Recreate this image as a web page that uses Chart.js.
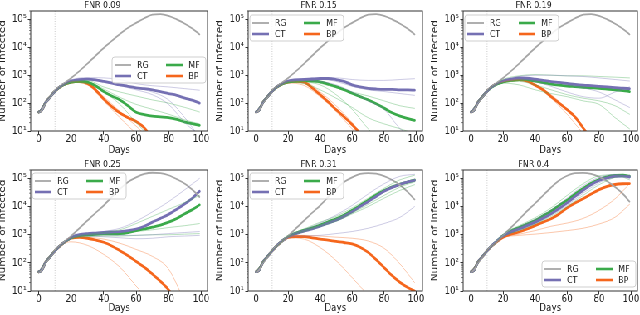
<!DOCTYPE html>
<html>
<head>
<meta charset="utf-8">
<script src="https://cdn.jsdelivr.net/npm/chart.js@4.4.1/dist/chart.umd.min.js"></script>
<style>
  html, body { margin: 0; padding: 0; background: #fff; overflow: hidden; width: 640px; height: 315px; }
  #fig { position: absolute; left: 0; top: 0; height: 315px; transform-origin: 0 0; }
  #fig canvas { position: absolute; }
</style>
</head>
<body>
<div id="fig"></div>
<script>
// days sampled for the thick mean curves and for the thin single runs
const days = [0, 2, 4, 7, 10, 15, 20, 25, 30, 35, 40, 45, 50, 55, 60, 65, 70, 75, 80, 85, 90, 95, 99];
const runDays = [0, 5, 10, 15, 20, 30, 40, 50, 60, 70, 80, 90, 99];
const xTicks = [0, 20, 40, 60, 80, 100];
const yTicks = [10, 100, 1000, 10000, 100000];
const titles = ["FNR 0.09", "FNR 0.15", "FNR 0.19", "FNR 0.25", "FNR 0.31", "FNR 0.4"];

// RG baseline
const rgTop = [48, 57, 100, 165, 280, 480, 800, 1400, 2600, 5000, 9500, 17000, 30000, 50000, 75000, 110000, 148000, 155000, 135000, 100000, 70000, 45000, 29000];
const rg4 = [48, 57, 100, 165, 280, 500, 900, 1700, 3200, 6000, 11000, 22000, 42000, 75000, 110000, 145000, 160000, 155000, 130000, 95000, 65000, 38000, 22000];
const rg5 = [48, 57, 100, 165, 280, 500, 900, 1700, 3200, 6000, 11000, 22000, 42000, 75000, 110000, 145000, 155000, 148000, 122000, 88000, 58000, 32000, 18000];
const rg6 = [48, 57, 100, 165, 280, 500, 950, 1800, 3500, 7000, 13000, 25000, 48000, 85000, 125000, 155000, 158000, 145000, 115000, 80000, 50000, 28000, 15000];

// FNR 0.09
const p1Ct = [48, 57, 100, 165, 270, 460, 620, 700, 720, 680, 600, 520, 450, 400, 350, 330, 300, 260, 220, 190, 150, 125, 100];
const p1Mf = [48, 57, 100, 165, 270, 450, 560, 600, 560, 420, 260, 180, 130, 80, 47, 39, 34, 32, 30, 26, 21, 18, 16];
const p1Bp = [48, 57, 100, 165, 270, 450, 570, 600, 510, 300, 140, 75, 44, 30, 22, 13, 5];
const p1CtRuns = [
  [48, 125, 270, 450, 680, 820, 800, 700, 500, 420, 380, 330, 290],
  [48, 125, 270, 450, 650, 750, 650, 500, 350, 250, 130, 30, 6],
  [48, 125, 270, 450, 620, 700, 600, 420, 300, 200, 90, 20, 7]
];
const p1MfRuns = [
  [48, 125, 270, 450, 600, 640, 380, 250, 180, 130, 100, 70, 48],
  [48, 125, 270, 450, 550, 500, 250, 90, 20, 5],
  [48, 125, 270, 450, 580, 560, 320, 160, 90, 60, 40, 25, 18]
];
const p1BpRuns = [
  [48, 125, 270, 450, 560, 450, 120, 30, 8],
  [48, 125, 270, 450, 600, 520, 170, 50, 15, 4]
];

// FNR 0.15
const p2Ct = [48, 57, 100, 165, 270, 460, 620, 680, 700, 730, 760, 760, 700, 600, 450, 380, 340, 320, 310, 310, 300, 300, 290];
const p2Mf = [48, 57, 100, 165, 270, 450, 570, 620, 650, 620, 580, 480, 390, 300, 225, 170, 130, 95, 66, 45, 34, 28, 24];
const p2Bp = [48, 57, 100, 165, 270, 450, 580, 600, 560, 350, 200, 110, 58, 32, 17, 8];
const p2CtRuns = [
  [48, 125, 270, 450, 650, 750, 800, 800, 700, 650, 650, 700, 750],
  [48, 125, 270, 450, 640, 720, 720, 600, 400, 300, 260, 220, 190],
  [48, 125, 270, 450, 600, 650, 600, 450, 250, 120, 60, 12, 5]
];
const p2MfRuns = [
  [48, 125, 270, 450, 600, 620, 520, 350, 250, 180, 120, 80, 65],
  [48, 125, 270, 450, 560, 500, 300, 150, 70, 30, 18, 12, 8],
  [48, 125, 270, 450, 560, 560, 450, 200, 60, 12, 3]
];
const p2BpRuns = [
  [48, 125, 270, 450, 520, 430, 170, 50, 12, 3],
  [48, 125, 270, 450, 600, 580, 250, 80, 20, 4]
];

// FNR 0.19
const p3Ct = [48, 57, 100, 165, 270, 460, 620, 720, 800, 780, 720, 650, 590, 550, 510, 470, 440, 420, 400, 380, 360, 340, 330];
const p3Mf = [48, 57, 100, 165, 270, 450, 570, 650, 700, 680, 620, 540, 480, 440, 410, 390, 370, 355, 340, 320, 300, 280, 260];
const p3Bp = [48, 57, 100, 165, 270, 460, 600, 680, 700, 620, 440, 300, 170, 100, 58, 32, 13, 5];
const p3CtRuns = [
  [48, 125, 270, 450, 650, 900, 1000, 1000, 950, 900, 800, 700, 620],
  [48, 125, 270, 450, 600, 750, 600, 400, 250, 170, 150, 250, 380],
  [48, 125, 270, 450, 620, 720, 700, 600, 450, 350, 250, 130, 70]
];
const p3MfRuns = [
  [48, 125, 270, 450, 700, 950, 1050, 1000, 950, 950, 900, 850, 800],
  [48, 125, 270, 450, 520, 450, 300, 220, 170, 120, 90, 30, 12],
  [48, 125, 270, 450, 550, 600, 450, 300, 200, 150, 120, 80, 40]
];
const p3BpRuns = [
  [48, 125, 270, 450, 560, 640, 420, 150, 40, 8],
  [48, 125, 270, 450, 600, 700, 470, 200, 60, 12, 3]
];

// FNR 0.25
const p4Ct = [48, 57, 100, 165, 270, 500, 800, 1000, 1100, 1150, 1200, 1250, 1300, 1400, 1600, 2000, 2800, 3800, 5300, 8000, 12600, 21000, 35000];
const p4Mf = [48, 57, 100, 165, 270, 500, 780, 950, 1000, 1030, 1070, 1080, 1100, 1200, 1400, 1600, 1850, 2200, 2800, 3800, 5600, 8000, 11500];
const p4Bp = [48, 57, 100, 165, 270, 500, 750, 800, 750, 650, 540, 400, 270, 180, 112, 70, 40, 22, 11, 4];
const p4CtRuns = [
  [48, 125, 270, 480, 850, 1100, 1300, 1700, 3000, 6500, 15000, 40000, 100000],
  [48, 125, 270, 480, 800, 1000, 1000, 950, 950, 1000, 1100, 1200, 1300],
  [48, 125, 270, 480, 750, 900, 850, 780, 720, 750, 850, 900, 950]
];
const p4MfRuns = [
  [48, 125, 270, 480, 800, 1050, 1200, 1500, 2500, 4500, 8000, 14000, 25000],
  [48, 125, 270, 480, 760, 950, 1050, 1100, 1300, 1500, 1800, 2100, 2500],
  [48, 125, 270, 480, 720, 850, 900, 900, 950, 1000, 1000, 1050, 1100]
];
const p4BpRuns = [
  [48, 125, 270, 480, 800, 800, 700, 500, 300, 170, 60, 4],
  [48, 125, 270, 480, 560, 420, 200, 70, 15, 3]
];

// FNR 0.31
const p5Ct = [48, 57, 100, 165, 270, 520, 850, 1100, 1350, 1600, 2000, 2600, 3300, 4500, 6500, 10000, 15000, 23000, 35000, 48000, 62000, 75000, 85000];
const p5Mf = [48, 57, 100, 165, 270, 520, 860, 1150, 1450, 1750, 2200, 2900, 3700, 5000, 7400, 11000, 17000, 26000, 37000, 50000, 63000, 75000, 88000];
const p5Bp = [48, 57, 100, 165, 270, 520, 800, 850, 850, 780, 700, 640, 580, 530, 470, 360, 235, 130, 68, 35, 20, 13, 10];
const p5CtRuns = [
  [48, 125, 270, 500, 880, 1500, 2600, 5000, 11000, 28000, 65000, 120000, 140000],
  [48, 125, 270, 500, 800, 900, 950, 1100, 1300, 1700, 2500, 4200, 10000]
];
const p5MfRuns = [
  [48, 125, 270, 500, 900, 1600, 2800, 4500, 9000, 20000, 45000, 90000, 130000],
  [48, 125, 270, 500, 850, 1300, 2000, 3000, 5500, 10000, 20000, 38000, 60000],
  [48, 125, 270, 500, 870, 1400, 2200, 3500, 6000, 12000, 25000, 50000, 75000]
];
const p5BpRuns = [
  [48, 125, 270, 500, 850, 950, 900, 820, 750, 600, 330, 90, 20],
  [48, 125, 270, 500, 780, 700, 350, 120, 30, 7]
];

// FNR 0.4
const p6Ct = [48, 57, 100, 165, 270, 520, 900, 1250, 1600, 2100, 2800, 3900, 5600, 8500, 13500, 23000, 38000, 60000, 85000, 105000, 120000, 122000, 115000];
const p6Mf = [48, 57, 100, 165, 270, 520, 920, 1350, 1800, 2400, 3200, 4700, 7000, 11000, 17000, 28000, 44000, 68000, 92000, 115000, 128000, 130000, 120000];
const p6Bp = [48, 57, 100, 165, 270, 500, 820, 1050, 1250, 1600, 2100, 2800, 3700, 5500, 9000, 13500, 19000, 28000, 40000, 52000, 61000, 65000, 66000];
const p6CtRuns = [
  [48, 125, 270, 500, 1000, 1900, 3500, 7500, 20000, 55000, 110000, 140000, 100000],
  [48, 125, 270, 500, 920, 1500, 2500, 5000, 11000, 30000, 70000, 120000, 125000]
];
const p6MfRuns = [
  [48, 125, 270, 500, 1050, 2100, 4000, 9000, 25000, 65000, 125000, 135000, 90000],
  [48, 125, 270, 500, 900, 1400, 2400, 4500, 10000, 25000, 60000, 110000, 130000]
];
const p6BpRuns = [
  [48, 125, 270, 500, 780, 950, 1050, 1200, 1400, 1700, 2400, 4200, 12000],
  [48, 125, 270, 500, 800, 1050, 1400, 2000, 2600, 3800, 7400, 19000, 65000]
];

// the reference figure is squeezed horizontally, so draw wide and squeeze
const SX = 0.83;
const FONT = "'DejaVu Sans', sans-serif";
const Y_W = 40, PAD_R = 8, TOP_H = 14, X_H = 30;
const colors = { RG: "#a6a6a6", CT: "#7570b3", MF: "#3aaa4a", BP: "#f5661c" };
const faint = ["rgba(117,112,179,0.36)", "rgba(58,170,74,0.36)", "rgba(245,102,28,0.36)"];
const SUP = ["\u2070", "\u00b9", "\u00b2", "\u00b3", "\u2074", "\u2075"];

const panels = [
  { box: [31, 11, 208, 131], rg: rgTop, main: [p1Ct, p1Mf, p1Bp], runs: [p1CtRuns, p1MfRuns, p1BpRuns], legend: { right: 2, top: 46 }, row: 0 },
  { box: [248, 11, 422, 131], rg: rgTop, main: [p2Ct, p2Mf, p2Bp], runs: [p2CtRuns, p2MfRuns, p2BpRuns], legend: { left: 2, top: 4 }, row: 0 },
  { box: [463, 11, 637, 131], rg: rgTop, main: [p3Ct, p3Mf, p3Bp], runs: [p3CtRuns, p3MfRuns, p3BpRuns], legend: { left: 2, top: 4 }, row: 0 },
  { box: [31, 170, 208, 291], rg: rg4, main: [p4Ct, p4Mf, p4Bp], runs: [p4CtRuns, p4MfRuns, p4BpRuns], legend: { left: 2, top: 3 }, row: 1 },
  { box: [248, 170, 422, 291], rg: rg5, main: [p5Ct, p5Mf, p5Bp], runs: [p5CtRuns, p5MfRuns, p5BpRuns], legend: { left: 2, top: 3 }, row: 1 },
  { box: [463, 170, 637, 291], rg: rg6, main: [p6Ct, p6Mf, p6Bp], runs: [p6CtRuns, p6MfRuns, p6BpRuns], legend: { right: 2, bottom: 4 }, row: 1 }
];

const pts = (xs, ys) => ys.map((v, i) => ({ x: xs[i], y: v }));

const framePlugin = {
  id: "frame",
  beforeDatasetsDraw(chart) {
    const { ctx, chartArea: a } = chart;
    const px = chart.scales.x.getPixelForValue(10);
    ctx.save();
    ctx.strokeStyle = "#c4c4c4";
    ctx.lineWidth = 0.9;
    ctx.setLineDash([1, 1.5]);
    ctx.beginPath(); ctx.moveTo(px, a.top); ctx.lineTo(px, a.bottom); ctx.stroke();
    ctx.restore();
  },
  afterDatasetsDraw(chart, args, opts) {
    const { ctx, chartArea: a } = chart;
    const y = chart.scales.y;
    ctx.save();
    // minor log ticks
    ctx.strokeStyle = "#333";
    ctx.lineWidth = 0.6;
    for (let d = 1; d <= 5; d++) {
      for (let k = 2; k <= 9; k++) {
        const v = k * Math.pow(10, d);
        if (v > y.max) continue;
        const py = y.getPixelForValue(v);
        ctx.beginPath(); ctx.moveTo(a.left - 2, py); ctx.lineTo(a.left, py); ctx.stroke();
      }
    }
    ctx.lineWidth = 1;
    ctx.strokeRect(a.left, a.top, a.right - a.left, a.bottom - a.top);

    // legend box, two columns: RG/CT and MF/BP
    const lg = opts.legend;
    const w = 113, h = 26;
    const bx = lg.left !== undefined ? a.left + lg.left : a.right - lg.right - w;
    const by = lg.top !== undefined ? a.top + lg.top : a.bottom - lg.bottom - h;
    ctx.fillStyle = "rgba(255,255,255,0.85)";
    ctx.strokeStyle = "#cfcfcf";
    ctx.beginPath();
    ctx.roundRect(bx, by, w, h, 3);
    ctx.fill(); ctx.stroke();
    const items = chart.data.datasets.filter(ds => ds.label);
    ctx.font = "9.5px " + FONT;
    ctx.textBaseline = "middle";
    ctx.fillStyle = "#222";
    items.forEach((ds, i) => {
      const col = Math.floor(i / 2), row = i % 2;
      const lx = bx + (col ? 65 : 3), ly = by + (row ? 19 : 8);
      ctx.strokeStyle = ds.borderColor;
      ctx.lineWidth = ds.label === "RG" ? 1.8 : 2.6;
      ctx.beginPath(); ctx.moveTo(lx, ly); ctx.lineTo(lx + 20, ly); ctx.stroke();
      ctx.fillText(ds.label, lx + 27, ly + 0.5);
    });
    ctx.restore();
  }
};

const fig = document.getElementById("fig");
fig.style.width = (640 / SX) + "px";
fig.style.transform = "scaleX(" + SX + ")";

panels.forEach((p, idx) => {
  const [L, T, R, B] = p.box;
  const w = Math.round((R - L) / SX + Y_W + PAD_R);
  const h = TOP_H + (B - T) + X_H;
  const cv = document.createElement("canvas");
  cv.width = w; cv.height = h;
  cv.style.width = w + "px"; cv.style.height = h + "px";
  cv.style.left = (L / SX - Y_W) + "px";
  cv.style.top = (T - TOP_H) + "px";
  fig.appendChild(cv);

  const datasets = [];
  p.runs.forEach((group, g) => {
    group.forEach(run => datasets.push({
      data: pts(runDays, run), borderColor: faint[g], borderWidth: 1
    }));
  });
  datasets.push({ label: "RG", data: pts(days, p.rg), borderColor: colors.RG, borderWidth: 1.8 });
  ["CT", "MF", "BP"].forEach((n, k) => datasets.push({
    label: n, data: pts(days, p.main[k]), borderColor: colors[n], borderWidth: 2.8
  }));

  new Chart(cv, {
    type: "line",
    data: { datasets },
    plugins: [framePlugin],
    options: {
      responsive: false,
      animation: false,
      devicePixelRatio: 1,
      layout: { padding: { top: 0, right: PAD_R, bottom: 0, left: 0 } },
      elements: {
        point: { radius: 0 },
        line: { cubicInterpolationMode: "monotone", fill: false, borderCapStyle: "round", borderJoinStyle: "round" }
      },
      plugins: {
        legend: { display: false },
        tooltip: { enabled: false },
        title: { display: true, text: titles[idx], color: "#222", font: { family: FONT, size: 9.5, weight: "normal" }, padding: { top: 2.4, bottom: 0.2 } },
        frame: { legend: p.legend }
      },
      scales: {
        x: {
          type: "linear", min: -4.95, max: 103.95,
          afterBuildTicks: s => { s.ticks = xTicks.map(v => ({ value: v })); },
          afterFit: s => { s.height = X_H; s.paddingLeft = 0; s.paddingRight = 0; },
          border: { display: false },
          grid: { drawOnChartArea: false, drawTicks: true, tickLength: 3.5, tickColor: "#333" },
          ticks: { color: "#222", font: { family: FONT, size: 10.5 }, padding: -2, maxRotation: 0, autoSkip: false, callback: v => String(v) },
          title: { display: true, text: "Days", color: "#222", font: { family: FONT, size: 10.5 }, padding: { top: 0, bottom: p.row ? 6 : 4 } }
        },
        y: {
          type: "logarithmic", min: 10, max: 2e5,
          afterBuildTicks: s => { s.ticks = yTicks.map(v => ({ value: v })); },
          afterFit: s => { s.width = Y_W; s.paddingTop = 0; s.paddingBottom = 0; },
          border: { display: false },
          grid: { drawOnChartArea: false, drawTicks: true, tickLength: 3.5, tickColor: "#333" },
          ticks: { color: "#222", font: { family: FONT, size: 10.5 }, padding: 1.5, autoSkip: false,
                   callback: v => "10" + SUP[Math.round(Math.log10(v))] },
          title: { display: true, text: "Number of infected", color: "#222", font: { family: FONT, size: 10.5 }, padding: { top: 0, bottom: 0 } }
        }
      }
    }
  });
});
</script>
</body>
</html>
